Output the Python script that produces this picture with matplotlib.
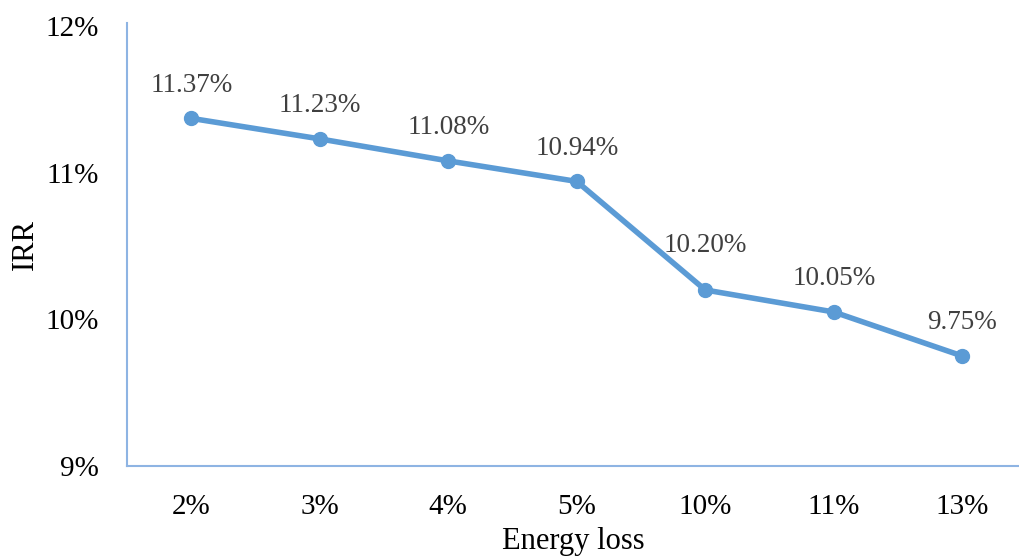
import matplotlib.pyplot as plt

# Data
energy_loss = ['2%', '3%', '4%', '5%', '10%', '11%', '13%']
irr = [11.37, 11.23, 11.08, 10.94, 10.20, 10.05, 9.75]
y_ticks = [9, 10, 11, 12]
y_tick_labels = ['9%', '10%', '11%', '12%']

# label offsets above each point (points), the 10.20% label sits higher
label_offsets = [24, 24, 24, 24, 32, 24, 24]

plt.rcParams['font.family'] = ['Liberation Serif', 'DejaVu Serif']

fig = plt.figure(figsize=(10.19, 5.57), dpi=100)
ax = fig.add_axes([127 / 1019, 91 / 557, 1 - 127 / 1019, (466 - 23) / 557])

x = list(range(len(energy_loss)))
ax.plot(x, irr, color='#5B9BD5', linewidth=4, marker='o', markersize=10)

for xi, v, off in zip(x, irr, label_offsets):
    ax.annotate(f'{v:.2f}%', (xi, v), xytext=(0, off), textcoords='offset points',
                ha='center', va='center', fontsize=19.5, color='#404040')

ax.set_xlim(-0.5, (1019 - 127) / 128.5 - 0.5)
ax.set_ylim(9, 12.02)
ax.set_xticks(x)
ax.set_xticklabels(energy_loss)
ax.set_yticks(y_ticks)
ax.set_yticklabels(y_tick_labels)
ax.tick_params(axis='both', length=0, labelsize=21, colors='black')
ax.tick_params(axis='x', pad=20)
ax.tick_params(axis='y', pad=20)

for side in ['top', 'right']:
    ax.spines[side].set_visible(False)
for side in ['left', 'bottom']:
    ax.spines[side].set_color('#8EB4E3')
    ax.spines[side].set_linewidth(1.5)

ax.set_xlabel('Energy loss', fontsize=22, labelpad=5)
ax.set_ylabel('IRR', fontsize=22, labelpad=4)

fig.savefig('out.png', dpi=100)
